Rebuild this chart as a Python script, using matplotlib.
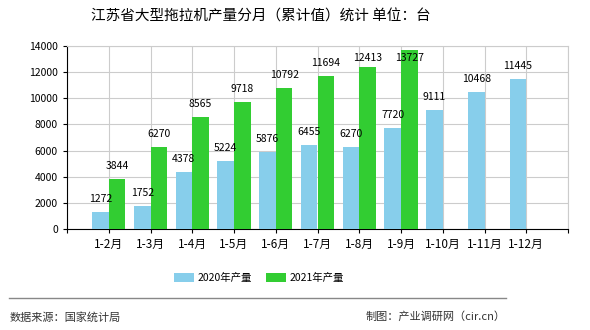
import matplotlib
matplotlib.use("Agg")
import matplotlib.pyplot as plt
import numpy as np

plt.rcParams['font.family'] = ['Noto Sans CJK SC', 'DejaVu Sans']

# data
months = ["1-2月", "1-3月", "1-4月", "1-5月", "1-6月", "1-7月", "1-8月",
          "1-9月", "1-10月", "1-11月", "1-12月"]
y2020 = [1272, 1752, 4378, 5224, 5876, 6455, 6270, 7720, 9111, 10468, 11445]
y2021 = [3844, 6270, 8565, 9718, 10792, 11694, 12413, 13727]
yticks = [0, 2000, 4000, 6000, 8000, 10000, 12000, 14000]

c2020 = "#87CEEB"
c2021 = "#32CD32"

fig = plt.figure(figsize=(5.9, 3.3), dpi=100)
ax = fig.add_axes([67/590, 1 - 229/330, 501/590, 183/330])

x = np.arange(1, len(months) + 1)
w = 0.4
ax.bar(x - w/2, y2020, width=w, color=c2020, label="2020年产量", zorder=3)
ax.bar(x[:len(y2021)] + w/2, y2021, width=w, color=c2021, label="2021年产量", zorder=3)

# value labels, kept inside the plot at the top
for xi, v in zip(x, y2020):
    ax.text(xi - w/2, min(v + 1000, 13100), str(v), ha="center", va="center",
            fontsize=7.5, zorder=4)
for xi, v in zip(x, y2021):
    ax.text(xi + w/2, min(v + 1000, 13100), str(v), ha="center", va="center",
            fontsize=7.5, zorder=4)

ax.set_xlim(0, 12)
ax.set_ylim(0, 14000)
ax.set_yticks(yticks)
ax.set_xticks(np.arange(0, 13))
ax.set_xticklabels([""] + months + [""], fontsize=8.5)
ax.tick_params(axis="y", labelsize=7.5, length=3)
ax.tick_params(axis="x", length=3)
ax.grid(True, color="#cccccc", linewidth=0.8, zorder=0)
for s in ["top", "right"]:
    ax.spines[s].set_color("#cccccc")
for s in ["left", "bottom"]:
    ax.spines[s].set_color("black")

fig.text(261/590, 1 - 17/330, "江苏省大型拖拉机产量分月（累计值）统计 单位：台",
         ha="center", va="center", fontsize=10.5)

fig.legend(loc="center", bbox_to_anchor=(259/590, 1 - 278/330), ncol=2, frameon=False,
           fontsize=7.5, handlelength=1.9, handleheight=0.9, handletextpad=0.4,
           columnspacing=1.3)

fig.add_artist(plt.Line2D([9/590, 506/590], [1 - 298/330, 1 - 298/330],
                          color="#888888", linewidth=1))
fig.text(10/590, 1 - 317/330, "数据来源：国家统计局", ha="left", va="center",
         fontsize=8, color="#333333")
fig.text(506/590, 1 - 317/330, "制图：产业调研网（cir.cn）", ha="right", va="center",
         fontsize=8, color="#333333")

fig.savefig("out.png", dpi=100)
